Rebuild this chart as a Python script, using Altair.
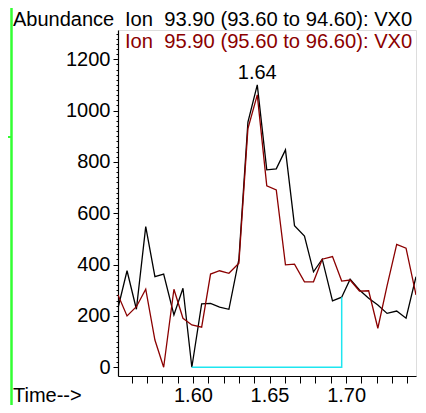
import altair as alt
import pandas as pd

# ---- data ----
times = [1.5511, 1.5570, 1.5631, 1.5692, 1.5752, 1.5809, 1.5876, 1.5935, 1.5993, 1.6057,
         1.6115, 1.6174, 1.6235, 1.6300, 1.6359, 1.6420, 1.6482, 1.6544, 1.6604, 1.6663,
         1.6728, 1.6787, 1.6844, 1.6911, 1.6971, 1.7026, 1.7087, 1.7147, 1.7207, 1.7267,
         1.7330, 1.7391, 1.7456]
ion_939 = [231, 376, 226, 548, 353, 363, 204, 308, 0, 247,
           249, 234, 226, 420, 955, 1100, 769, 773, 847, 552,
           511, 372, 421, 259, 273, 343, 301, 269, 243, 210,
           219, 191, 353]
ion_959 = [282, 200, 236, 304, 106, 0, 304, 191, 165, 156,
           363, 376, 366, 405, 930, 1061, 707, 691, 399, 402,
           333, 333, 421, 431, 336, 340, 297, 298, 152, 317,
           479, 464, 282]
baseline_t = [1.5993, 1.6971, 1.6971]
baseline_v = [0, 0, 273]
peak_t = [1.642]
peak_v = [1100]
peak_label = ["1.64"]
x_ticks = [1.56, 1.57, 1.58, 1.59, 1.60, 1.61, 1.62, 1.63, 1.64, 1.65,
           1.66, 1.67, 1.68, 1.69, 1.70, 1.71, 1.72, 1.73, 1.74]
y_ticks = list(range(0, 1320, 20))

y_title = "Abundance"
x_title = "Time-->"
legend_1 = "Ion\u00a0\u00a093.90 (93.60 to 94.60): VX0"
legend_2 = "Ion\u00a0\u00a095.90 (95.60 to 96.60): VX0"

FONT = "Liberation Sans"
BLACK = "#000000"
RED = "#8b0000"
CYAN = "#1ee6f0"
GREEN = "#33ff33"

df_black = pd.DataFrame({"t": times, "v": ion_939})
df_red = pd.DataFrame({"t": times, "v": ion_959})
df_base = pd.DataFrame({"t": baseline_t, "v": baseline_v, "o": list(range(len(baseline_t)))})
df_peak = pd.DataFrame({"t": peak_t, "v": peak_v, "label": peak_label})

xscale = alt.Scale(domain=[1.5511, 1.7456], nice=False, zero=False)
yscale = alt.Scale(domain=[-34, 1314], nice=False, zero=False)

x_axis = alt.Axis(
    values=x_ticks, tickCount=1000, title=None, grid=False, tickSize=7, tickColor=BLACK,
    tickWidth=1, domainColor=BLACK, domainWidth=1.2,
    labelExpr="abs(round(datum.value*100) % 5) == 0 ? format(datum.value, '.2f') : ''",
    labelFontSize=20, labelFont=FONT, labelColor=BLACK, labelBaseline="alphabetic",
    labelPadding=18.5, labelFlush=False, labelOverlap=False,
)
y_axis = alt.Axis(
    values=y_ticks, tickCount=1000, title=None, grid=False,
    tickSize={"condition": {"test": "datum.value % 200 === 0", "value": 5}, "value": 2},
    tickColor=BLACK, tickWidth=1, domainColor=BLACK, domainWidth=1.2,
    labelExpr="datum.value % 200 === 0 ? format(datum.value, 'd') : ''",
    labelFontSize=20, labelFont=FONT, labelColor=BLACK, labelPadding=3,
    labelOverlap=False, labelFlush=False,
)

black_line = alt.Chart(df_black).mark_line(color=BLACK, strokeWidth=1.3, clip=True).encode(
    x=alt.X("t:Q", scale=xscale, axis=x_axis),
    y=alt.Y("v:Q", scale=yscale, axis=y_axis),
)
red_line = alt.Chart(df_red).mark_line(color=RED, strokeWidth=1.3, clip=True).encode(
    x=alt.X("t:Q", scale=xscale),
    y=alt.Y("v:Q", scale=yscale),
)
base_line = alt.Chart(df_base).mark_line(color=CYAN, strokeWidth=1.5).encode(
    x=alt.X("t:Q", scale=xscale),
    y=alt.Y("v:Q", scale=yscale),
    order="o:Q",
)
peak_text = alt.Chart(df_peak).mark_text(
    font=FONT, fontSize=20, color=BLACK, baseline="alphabetic", align="center", dy=-6
).encode(
    x=alt.X("t:Q", scale=xscale),
    y=alt.Y("v:Q", scale=yscale),
    text="label:N",
)

one = pd.DataFrame({"a": [0]})


def label(txt, x, y, color=BLACK, size=20):
    return alt.Chart(one).mark_text(
        text=txt, font=FONT, fontSize=size, color=color, align="left", baseline="alphabetic"
    ).encode(x=alt.value(x), y=alt.value(y))


t_abund = label(y_title, -105, -3.7)
t_ion1 = label(legend_1, 7, -3.7, BLACK, 20.2)
t_ion2 = label(legend_2, 7, 17.5, RED, 20.2)
t_time = label(x_title, -105, 371.5)


def rule(x1, x2, y1, y2, color=GREEN, w=2.5):
    return alt.Chart(one).mark_rule(color=color, strokeWidth=w).encode(
        x=alt.value(x1), x2=alt.value(x2), y=alt.value(y1), y2=alt.value(y2)
    )


frame_left = rule(-106.5, -106.5, -22, 380)
frame_stub = rule(-118, -106.5, 107, 107, w=2)

chart = alt.layer(
    black_line, red_line, base_line, peak_text,
    t_abund, t_ion1, t_ion2, t_time,
    frame_left, frame_stub,
).properties(
    width=298, height=346,
    autosize=alt.AutoSizeParams(type="none"),
    padding={"left": 110, "top": 22, "right": 2, "bottom": 29},
).configure_view(stroke=None).configure(font=FONT)

chart.save("out.html", embed_options={"renderer": "svg", "actions": False})
